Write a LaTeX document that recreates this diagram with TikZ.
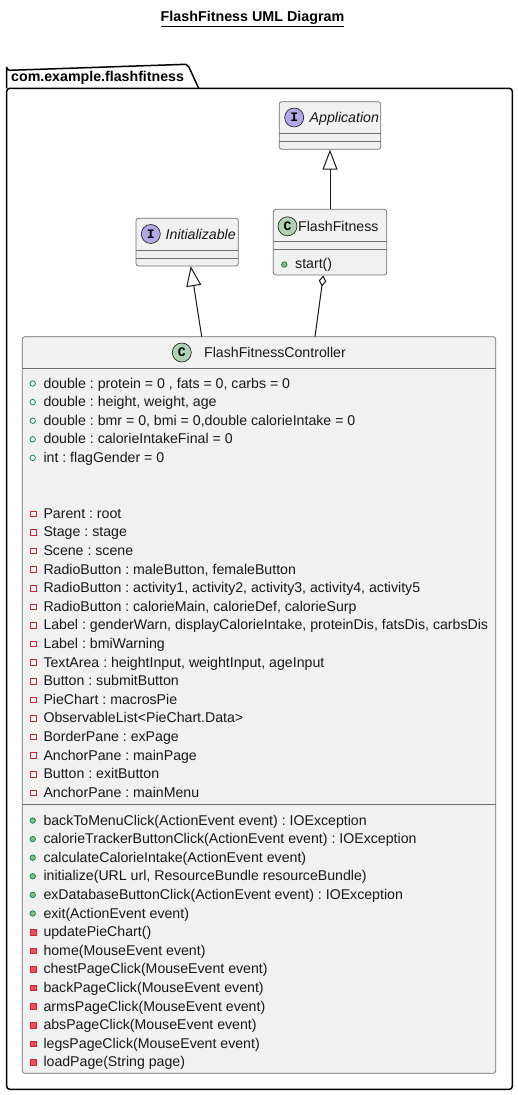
\documentclass[tikz,border=0pt]{standalone}
\usepackage{fontspec}
\setmainfont{Liberation Sans}
\newfontfamily\monob{Liberation Mono}
\usetikzlibrary{arrows.meta}
\frenchspacing
\definecolor{boxfill}{HTML}{F1F1F1}
\definecolor{boxdraw}{HTML}{181818}
\definecolor{linegray}{HTML}{6E6E6E}
\definecolor{ifill}{HTML}{B4A7E5}
\definecolor{cfill}{HTML}{ADD1B2}
\definecolor{pubdraw}{HTML}{038048}
\definecolor{pubfill}{HTML}{84BE84}
\definecolor{privdraw}{HTML}{C82930}
\definecolor{privfill}{HTML}{F24D5C}
\begin{document}
\begin{tikzpicture}[x=1pt,y=-1pt,
  every node/.style={inner sep=0pt, font=\fontsize{14.15}{16}\selectfont\frenchspacing},
  boxst/.style={draw=linegray, fill=boxfill, line width=0.7pt, rounded corners=2.5pt},
  sepst/.style={draw=linegray, line width=0.7pt},
  rowtext/.style={anchor=base west, text=boxdraw},
  iconc/.style={circle, draw=boxdraw, line width=0.6pt, minimum size=19pt, font=\fontsize{13}{14}\monob\bfseries},
  pubattr/.style={circle, draw=pubdraw, line width=0.7pt, minimum size=5.5pt},
  pubmeth/.style={circle, draw=pubdraw, fill=pubfill, line width=0.7pt, minimum size=5.5pt},
  privattr/.style={rectangle, draw=privdraw, line width=0.7pt, minimum size=5.5pt},
  privmeth/.style={rectangle, draw=privdraw, fill=privfill, line width=0.7pt, minimum size=5.5pt},
  realize/.style={draw=boxdraw, line width=1pt, -{Triangle[open, length=20pt, width=15pt]}},
  agg/.style={draw=boxdraw, line width=1pt, {Diamond[open, length=11pt, width=7.5pt]}-}]
% canvas
\fill[white] (0,0) rectangle (518,1095);
\useasboundingbox (0,0) rectangle (518,1095);
% title
\node[font=\fontsize{14.3}{16}\selectfont\bfseries] (title) at (252.5,19.3) {\underline{FlashFitness UML Diagram}};
% package
\draw[line width=1.5pt, line join=round] (6.7,88.3) -- (6.7,67.3) arc[start angle=180, end angle=90, radius=3] -- (186,64.3) -- (189,67.3) -- (198.7,88.3);
\draw[line width=1.5pt, rounded corners=3pt] (6.7,88.3) rectangle (512.3,1089.3);
\node[anchor=base west, font=\fontsize{14.2}{16}\selectfont\bfseries] (pkg) at (11,81) {com.example.flashfitness};
% Application
\node[boxst, minimum width=101.4pt, minimum height=47.6pt] (app) at (330,125.5) {};
\draw[sepst] (279.3,133.3) -- (380.7,133.3);
\draw[sepst] (279.3,141.3) -- (380.7,141.3);
\node[iconc, fill=ifill] (appI) at (294.2,117.5) {I};
\node[rowtext, font=\fontsize{14.15}{16}\selectfont\itshape] (appT) at (309.5,122.5) {Application};
% Initializable
\node[boxst, minimum width=102.3pt, minimum height=47.7pt] (init) at (187.15,242.15) {};
\draw[sepst] (136,250) -- (238.3,250);
\draw[sepst] (136,258.3) -- (238.3,258.3);
\node[iconc, fill=ifill] (initI) at (150.8,234) {I};
\node[rowtext, font=\fontsize{14.15}{16}\selectfont\itshape] (initT) at (165.5,239) {Initializable};
% FlashFitness
\node[boxst, minimum width=113.4pt, minimum height=65.7pt] (ff) at (330,242.15) {};
\draw[sepst] (273.3,241) -- (386.7,241);
\draw[sepst] (273.3,249.3) -- (386.7,249.3);
\node[iconc, fill=cfill] (ffC) at (287.5,226.3) {C};
\node[rowtext] (ffT) at (298,231.3) {FlashFitness};
\node[pubmeth] (ffm0) at (284.3,264.5) {};
\node[rowtext] (ffM) at (295,268.7) {start()};
% Controller
\node[boxst, minimum width=473.4pt, minimum height=736.6pt] (ctrl) at (259,705) {};
\draw[sepst] (22.3,368.3) -- (495.7,368.3);
\draw[sepst] (22.3,804) -- (495.7,804);
\node[iconc, fill=cfill] (ctrlC) at (181.8,352.5) {C};
\node[rowtext] (ctrlT) at (204,357.5) {FlashFitnessController};
% public attributes
\foreach \k/\t in {0/{double : protein = 0 , fats = 0, carbs = 0},
  1/{double : height, weight, age},
  2/{double : bmr = 0, bmi = 0,double calorieIntake = 0},
  3/{double : calorieIntakeFinal = 0},
  4/{int : flagGender = 0}}{
  \node[pubattr] (ai\k) at (32.7,383.5+18.6*\k) {};
  \node[rowtext] (at\k) at (43.3,388+18.6*\k) {\t};
}
% private attributes
\foreach \k/\t in {7/{Parent : root},
  8/{Stage : stage},
  9/{Scene : scene},
  10/{RadioButton : maleButton, femaleButton},
  11/{RadioButton : activity1, activity2, activity3, activity4, activity5},
  12/{RadioButton : calorieMain, calorieDef, calorieSurp},
  13/{Label : genderWarn, displayCalorieIntake, proteinDis, fatsDis, carbsDis},
  14/{Label : bmiWarning},
  15/{TextArea : heightInput, weightInput, ageInput},
  16/{Button : submitButton},
  17/{PieChart : macrosPie},
  18/{ObservableList<PieChart.Data>},
  19/{BorderPane : exPage},
  20/{AnchorPane : mainPage},
  21/{Button : exitButton},
  22/{AnchorPane : mainMenu}}{
  \node[privattr] (ai\k) at (33.3,383.5+18.6*\k) {};
  \node[rowtext] (at\k) at (43.3,388+18.6*\k) {\t};
}
% public methods
\foreach \j/\t in {0/{backToMenuClick(ActionEvent event) : IOException},
  1/{calorieTrackerButtonClick(ActionEvent event) : IOException},
  2/{calculateCalorieIntake(ActionEvent event)},
  3/{initialize(URL url, ResourceBundle resourceBundle)},
  4/{exDatabaseButtonClick(ActionEvent event) : IOException},
  5/{exit(ActionEvent event)}}{
  \node[pubmeth] (mi\j) at (32.7,820.5+18.6*\j) {};
  \node[rowtext] (mt\j) at (43.3,825+18.6*\j) {\t};
}
% private methods
\foreach \j/\t in {6/{updatePieChart()},
  7/{home(MouseEvent event)},
  8/{chestPageClick(MouseEvent event)},
  9/{backPageClick(MouseEvent event)},
  10/{armsPageClick(MouseEvent event)},
  11/{absPageClick(MouseEvent event)},
  12/{legsPageClick(MouseEvent event)},
  13/{loadPage(String page)}}{
  \node[privmeth] (mi\j) at (33.3,820.5+18.6*\j) {};
  \node[rowtext] (mt\j) at (43.3,825+18.6*\j) {\t};
}
% connectors
\draw[realize] (ff.north) -- (app.south);
\coordinate (ctrlA) at (201.7,336.7);
\coordinate (initB) at (190.7,266.2);
\draw[realize] (ctrlA) -- (initB);
\coordinate (ffA) at (323.3,275.5);
\coordinate (ctrlB) at (315,336.7);
\draw[agg] (ffA) -- (ctrlB);
\end{tikzpicture}
\end{document}
